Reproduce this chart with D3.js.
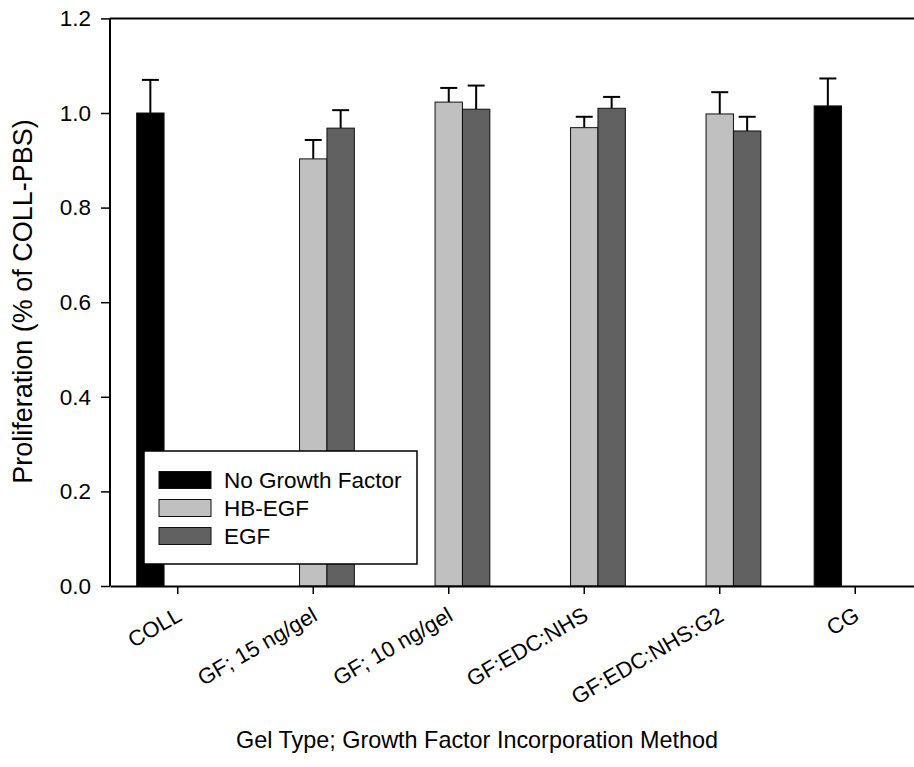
<!DOCTYPE html>
<html>
<head>
<meta charset="utf-8">
<script src="https://cdn.jsdelivr.net/npm/d3@7"></script>
<style>
  html, body { margin: 0; padding: 0; background: #fff; }
  svg { display: block; font-family: Arial, "Liberation Sans", sans-serif; }
</style>
</head>
<body>
<svg id="chart" width="914" height="767"></svg>
<script>
// Gel types along the x axis
const categories = ["COLL", "GF; 15 ng/gel", "GF; 10 ng/gel", "GF:EDC:NHS", "GF:EDC:NHS:G2", "CG"];
const seriesNames = ["No Growth Factor", "HB-EGF", "EGF"];
const seriesColors = ["#000000", "#c0c0c0", "#606060"];

// Mean proliferation (fraction of COLL-PBS) and upper error per series
const noGrowthFactor    = [1.000, null, null, null, null, 1.015];
const noGrowthFactorErr = [0.070, null, null, null, null, 0.058];
const hbEgf             = [null, 0.903, 1.023, 0.969, 0.998, null];
const hbEgfErr          = [null, 0.040, 0.030, 0.023, 0.046, null];
const egf               = [null, 0.968, 1.008, 1.010, 0.962, null];
const egfErr            = [null, 0.038, 0.050, 0.024, 0.030, null];

const yTicks = [0.0, 0.2, 0.4, 0.6, 0.8, 1.0, 1.2];

const seriesValues = [noGrowthFactor, hbEgf, egf];
const seriesErrors = [noGrowthFactorErr, hbEgfErr, egfErr];

const svg = d3.select("#chart");
const plotLeft = 110, plotRight = 923, plotTop = 18.4, plotBottom = 586;

const y = d3.scaleLinear().domain([0, 1.2]).range([plotBottom, plotTop]);
const x0 = d3.scaleBand().domain(categories).range([plotLeft, plotRight])
  .paddingInner(0.3934).paddingOuter(0.1967);
const x1 = d3.scaleBand().domain(seriesNames).range([0, x0.bandwidth()]).padding(0);

// flatten into bar records
const bars = [];
categories.forEach((c, i) => {
  seriesNames.forEach((s, j) => {
    const v = seriesValues[j][i];
    if (v != null) bars.push({ cat: c, series: s, color: seriesColors[j], value: v, err: seriesErrors[j][i] });
  });
});

const g = svg.append("g");

// error bars (upper only)
const eb = g.append("g").selectAll("g").data(bars).join("g")
  .attr("transform", d => `translate(${x0(d.cat) + x1(d.series) + x1.bandwidth() / 2},0)`);
eb.append("line")
  .attr("x1", 0).attr("x2", 0)
  .attr("y1", d => y(d.value)).attr("y2", d => y(d.value + d.err))
  .attr("stroke", "#000").attr("stroke-width", 2);
eb.append("line")
  .attr("x1", -8.5).attr("x2", 8.5)
  .attr("y1", d => y(d.value + d.err)).attr("y2", d => y(d.value + d.err))
  .attr("stroke", "#000").attr("stroke-width", 2);

// bars
g.append("g").selectAll("rect").data(bars).join("rect")
  .attr("x", d => x0(d.cat) + x1(d.series))
  .attr("width", x1.bandwidth())
  .attr("y", d => y(d.value))
  .attr("height", d => y(0) - y(d.value))
  .attr("fill", d => d.color)
  .attr("stroke", "#111").attr("stroke-width", 1);

// top frame line
g.append("line")
  .attr("x1", plotLeft).attr("x2", plotRight)
  .attr("y1", y(1.2)).attr("y2", y(1.2))
  .attr("stroke", "#000").attr("stroke-width", 2);

// y axis
const yAxis = g.append("g")
  .attr("transform", `translate(${plotLeft},0)`)
  .call(d3.axisLeft(y).tickValues(yTicks).tickFormat(d3.format(".1f")).tickSize(9).tickPadding(10));
yAxis.select(".domain").attr("stroke-width", 2).attr("d", `M0,${y(0)}V${y(1.2)}`);
yAxis.selectAll(".tick line").attr("stroke-width", 1.5);
yAxis.selectAll("text").attr("font-size", 22.5).attr("fill", "#000")
  .attr("font-family", "Arial, 'Liberation Sans', sans-serif");

// x axis
const xAxis = g.append("g")
  .attr("transform", `translate(0,${plotBottom})`)
  .call(d3.axisBottom(x0).tickSize(8).tickSizeOuter(0));
xAxis.select(".domain").attr("stroke-width", 2);
xAxis.selectAll(".tick line").attr("stroke-width", 1.5);
xAxis.selectAll("text")
  .attr("font-size", 22).attr("fill", "#000")
  .attr("font-family", "Arial, 'Liberation Sans', sans-serif")
  .attr("text-anchor", "end")
  .attr("dy", "0")
  .attr("transform", "translate(0,24) rotate(-30)");

// axis titles
svg.append("text")
  .attr("x", 477).attr("y", 748)
  .attr("text-anchor", "middle").attr("font-size", 23.4)
  .text("Gel Type; Growth Factor Incorporation Method");
svg.append("text")
  .attr("transform", "translate(32,301.5) rotate(-90)")
  .attr("text-anchor", "middle").attr("font-size", 27)
  .text("Proliferation (% of COLL-PBS)");

// legend
const legend = svg.append("g");
legend.append("rect")
  .attr("x", 144).attr("y", 451).attr("width", 273).attr("height", 113)
  .attr("fill", "#fff").attr("stroke", "#000").attr("stroke-width", 1.5);
const items = legend.selectAll("g.item").data(seriesNames).join("g")
  .attr("class", "item")
  .attr("transform", (d, i) => `translate(159,${471.5 + i * 28})`);
items.append("rect")
  .attr("width", 52).attr("height", 17)
  .attr("fill", (d, i) => seriesColors[i])
  .attr("stroke", "#111").attr("stroke-width", 1);
items.append("text")
  .attr("x", 65).attr("y", 8.5).attr("dy", "0.36em")
  .attr("font-size", 22.5)
  .text(d => d);
</script>
</body>
</html>
